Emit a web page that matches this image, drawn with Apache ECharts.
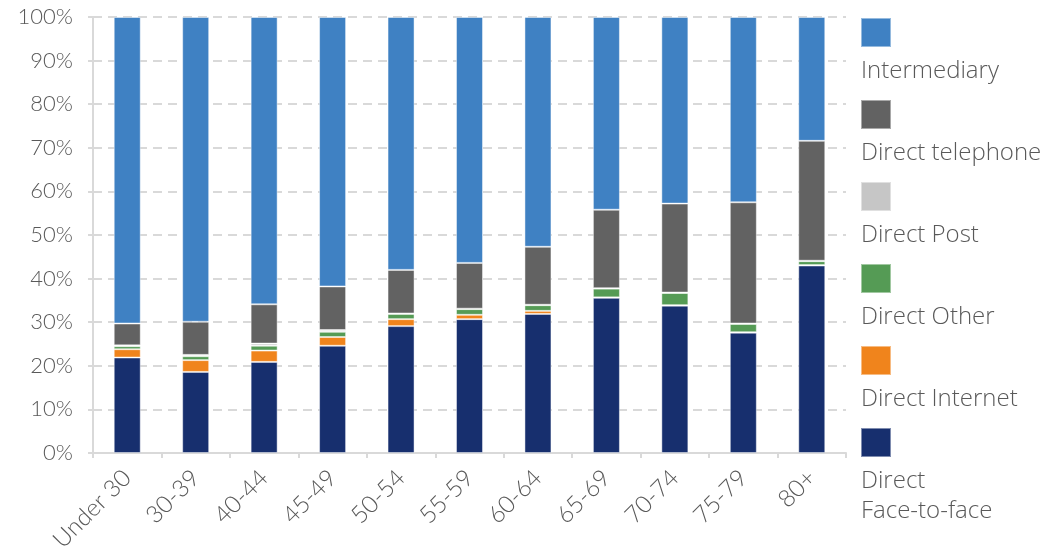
<!DOCTYPE html>
<html>
<head>
<meta charset="utf-8">
<script src="https://cdn.jsdelivr.net/npm/echarts@6/dist/echarts.min.js"></script>
<style>
  html,body{margin:0;padding:0;background:#fff;}
  #chart{width:1064px;height:551px;}
</style>
</head>
<body>
<div id="chart"></div>
<script>
  // age bands
  var categories=['Under 30','30-39','40-44','45-49','50-54','55-59','60-64','65-69','70-74','75-79','80+']

  // shares in %, bottom of stack first
  var faceToFace=[21.9,18.6,20.9,24.6,29.1,30.7,31.9,35.6,33.8,27.6,43.0]
  var internet=[1.9,2.7,2.6,2.0,1.6,1.0,0.7,0.1,0.1,0.1,0.1]
  var other=[0.7,0.9,1.1,1.2,1.2,1.3,1.3,2.0,2.8,1.9,0.9]
  var post=[0.2,0.3,0.5,0.4,0.1,0.1,0.1,0.1,0.1,0.1,0.1]
  var telephone=[5.0,7.6,9.0,10.0,10.0,10.5,13.3,18.0,20.4,27.8,27.5]
  var intermediary=[70.3,69.9,65.9,61.8,58.0,56.4,52.7,44.2,42.8,42.5,28.4]

  var yTicks=[0,10,20,30,40,50,60,70,80,90,100]

  var legendOrder=['Intermediary','Direct telephone','Direct Post','Direct Other','Direct Internet','Direct Face-to-face']

  var font='Lato'
  var legendFont='Open Sans'
  var textColor='#595959'

  var chart=echarts.init(document.getElementById('chart'))

  var makeSeries=function (name,data,color) {
    return {
      name:name,
      type:'bar',
      stack:'total',
      barWidth:27,
      data:data,
      itemStyle:{color:color,borderColor:'rgba(255,255,255,0.45)',borderWidth:1},
      emphasis:{disabled:true}
    }
  }

  var option={
    animation:false,
    grid:{left:93,right:218,top:17,bottom:98,containLabel:false,outerBoundsMode:'none'},
    legend:[{
      // squares only
      orient:'vertical',
      left:860,
      top:17,
      padding:0,
      itemWidth:30,
      itemHeight:29,
      itemGap:51,
      icon:'rect',
      data:legendOrder,
      formatter:function () { return '' },
      textStyle:{fontSize:1}
    },{
      // names, written under each square
      orient:'vertical',
      left:856,
      top:56,
      bottom:0,
      padding:0,
      itemWidth:0,
      itemHeight:28,
      itemGap:52,
      icon:'none',
      data:legendOrder,
      formatter:function (name) {
        return name==='Direct Face-to-face'?'Direct\nFace-to-face':name
      },
      textStyle:{fontFamily:legendFont,fontWeight:300,fontSize:24,color:textColor,lineHeight:30}
    }],
    xAxis:{
      type:'category',
      data:categories,
      axisLine:{lineStyle:{color:'#d9d9d9',width:2}},
      axisTick:{show:true,length:5,lineStyle:{color:'#d9d9d9',width:2}},
      axisLabel:{rotate:45,margin:21,fontFamily:font,fontWeight:300,fontSize:24,color:textColor}
    },
    yAxis:{
      type:'value',
      min:yTicks[0],
      max:yTicks[yTicks.length-1],
      interval:10,
      axisLine:{show:true,lineStyle:{color:'#d9d9d9',width:2}},
      axisTick:{show:true,length:5,lineStyle:{color:'#d9d9d9',width:2}},
      axisLabel:{margin:20,fontFamily:font,fontWeight:300,fontSize:22,color:textColor,formatter:'{value}%'},
      splitLine:{show:true,lineStyle:{color:'#d9d9d9',width:2,type:[9,6]}}
    },
    series:[
      makeSeries('Direct Face-to-face',faceToFace,'#172F6E'),
      makeSeries('Direct Internet',internet,'#F0841C'),
      makeSeries('Direct Other',other,'#559B55'),
      makeSeries('Direct Post',post,'#C6C6C6'),
      makeSeries('Direct telephone',telephone,'#626262'),
      makeSeries('Intermediary',intermediary,'#3F81C3')
    ]
  }

  chart.setOption(option)
</script>
</body>
</html>
